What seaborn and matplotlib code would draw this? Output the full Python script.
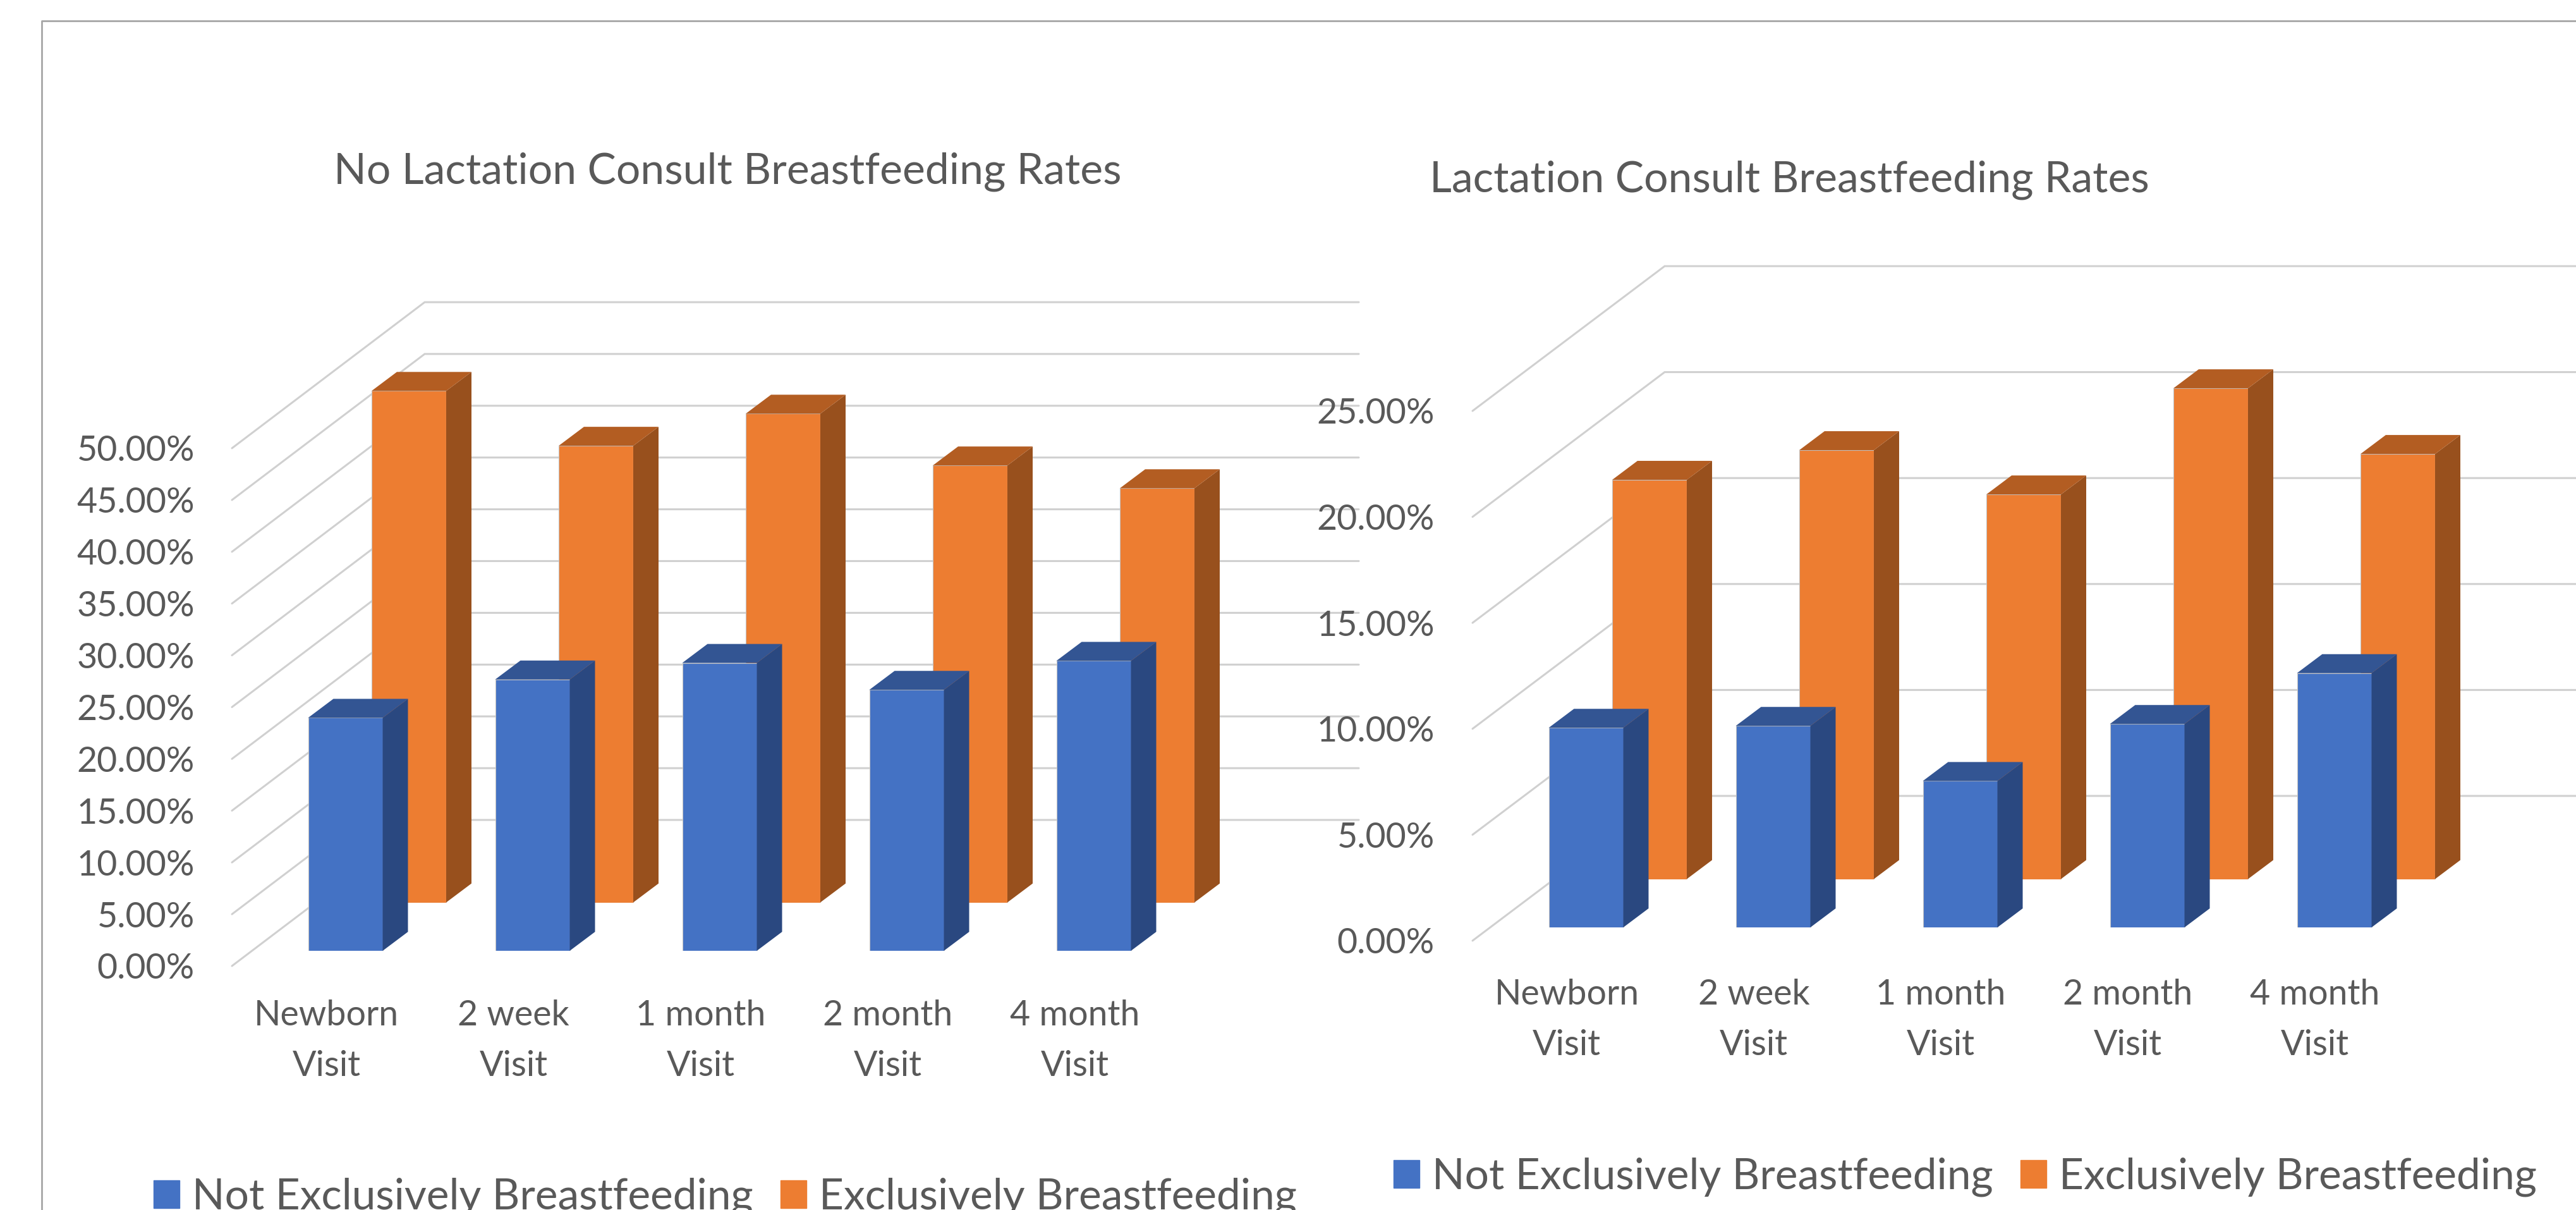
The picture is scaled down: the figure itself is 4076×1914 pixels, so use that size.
import matplotlib
matplotlib.use("Agg")
import matplotlib.pyplot as plt
from matplotlib.lines import Line2D
from matplotlib.patches import Patch, Polygon
import pandas as pd
import seaborn as sns

visits = ["Newborn\nVisit", "2 week\nVisit", "1 month\nVisit", "2 month\nVisit", "4 month\nVisit"]
series_names = ["Not Exclusively Breastfeeding", "Exclusively Breastfeeding"]

no_consult_not_excl = [22.5, 26.2, 27.8, 25.2, 28.0]
no_consult_excl = [49.4, 44.1, 47.2, 42.2, 40.0]
consult_not_excl = [9.42, 9.51, 6.91, 9.60, 12.0]
consult_excl = [18.84, 20.24, 18.15, 23.16, 20.06]

no_consult_ticks = [0, 5, 10, 15, 20, 25, 30, 35, 40, 45, 50]
consult_ticks = [0, 5, 10, 15, 20, 25]

W, H = 4076, 1914
DPI = 100
SPACING = 296
BAR_W = 118
TEXT = "#595959"
GRID = "#d0d0d0"
BLUE = ("#4472C4", "#335593", "#2A4880")
ORANGE = ("#ED7D31", "#B35D22", "#98501D")

sns.set_theme(style="white")
plt.rcParams["font.family"] = ["Lato", "DejaVu Sans"]

fig = plt.figure(figsize=(W / DPI, H / DPI), dpi=DPI)


def px_axes(left, top, right, bottom, z):
    ax = fig.add_axes([left / W, 1 - bottom / H, (right - left) / W, (bottom - top) / H], zorder=z)
    ax.patch.set_visible(False)
    return ax


def bars(values, color, left, base, per_unit, ymax, z):
    # one series on its own transparent axes, so it sits at its own depth
    ax = px_axes(left, base - per_unit * ymax, left + 5 * SPACING, base, z)
    df = pd.DataFrame({"visit": visits, "value": values})
    sns.barplot(data=df, x="visit", y="value", color=color[0], saturation=1,
                width=BAR_W / SPACING, ax=ax, edgecolor="#c4c4c4", linewidth=0.8)
    ax.set_xlim(-0.5, 4.5)
    ax.set_ylim(0, ymax)
    ax.axis("off")

    dx = 40 / SPACING
    dy = 30 / per_unit
    for bar in list(ax.patches):
        x0 = bar.get_x()
        x1 = x0 + bar.get_width()
        top = bar.get_height()
        ax.add_patch(Polygon([(x1, 0), (x1 + dx, dy), (x1 + dx, top + dy), (x1, top)],
                             facecolor=color[2], edgecolor="none", clip_on=False))
        ax.add_patch(Polygon([(x0, top), (x0 + dx, top + dy), (x1 + dx, top + dy), (x1, top)],
                             facecolor=color[1], edgecolor="none", clip_on=False))
    return ax


def chart(title, title_xy, not_excl, excl, ticks, wall_x, wall_y, per_unit, back_dx, back_dy,
          wall_end, label_x, ylabel_right, blue_x, blue_base, x_pad, legend_xy):
    ymax = ticks[-1]

    # wall axes carries tick labels and the perspective grid
    ax = px_axes(wall_x, wall_y - per_unit * ymax, wall_end, wall_y, 1)
    ax.set_xlim((wall_x - label_x) / SPACING, (wall_end - label_x) / SPACING)
    ax.set_ylim(0, ymax)
    for spine in ax.spines.values():
        spine.set_visible(False)
    ax.grid(False)
    ax.set_xticks(range(len(visits)))
    ax.set_xticklabels(visits, linespacing=1.72)
    ax.set_yticks(ticks)
    ax.set_yticklabels([f"{t:.2f}%" for t in ticks])
    ax.tick_params(axis="y", length=0, pad=(wall_x - ylabel_right) * 0.72, labelsize=40, labelcolor=TEXT)
    ax.tick_params(axis="x", length=0, pad=x_pad, labelsize=40, labelcolor=TEXT)

    x0, x_end = ax.get_xlim()
    dx = back_dx / SPACING
    dy = back_dy / per_unit
    for t in ticks:
        ax.plot([x0, x0 + dx, x_end], [t, t + dy, t + dy], color=GRID, lw=2.2,
                clip_on=False, solid_joinstyle="miter")

    left = blue_x - SPACING / 2 + BAR_W / 2
    bars(excl, ORANGE, left + 100.5, blue_base - 76.5, per_unit, ymax, 2)
    bars(not_excl, BLUE, left, blue_base, per_unit, ymax, 3)

    fig.text(title_xy[0] / W, 1 - title_xy[1] / H, title, ha="left", va="center",
             fontsize=48.9, color=TEXT)

    handles = [Patch(color=BLUE[0]), Patch(color=ORANGE[0])]
    ax.legend(handles, series_names, ncols=2, loc="lower left", frameon=False,
              bbox_to_anchor=(legend_xy[0] / W, 1 - legend_xy[1] / H), bbox_transform=fig.transFigure,
              fontsize=48.7, labelcolor=TEXT, handlelength=0.6, handleheight=0.62,
              handletextpad=0.3, columnspacing=0.65, borderaxespad=0, borderpad=0)


chart("No Lactation Consult Breastfeeding Rates", (528, 272), no_consult_not_excl, no_consult_excl,
      no_consult_ticks, 367, 1528, 16.38, 305, 231, 2150, 516.6, 308, 487.5, 1504, 38, (243, 1925))
chart("Lactation Consult Breastfeeding Rates", (2262, 285), consult_not_excl, consult_excl,
      consult_ticks, 2330, 1488, 33.52, 304, 229, 4076, 2479, 2270, 2450.5, 1467, 43, (2205, 1893))

# outer frame of the pasted chart
fig.add_artist(Line2D([66 / W, 66 / W, 1], [0, 1 - 33 / H, 1 - 33 / H], color="#a6a6a6", lw=2))

fig.savefig("out.png", dpi=DPI, facecolor="white")
